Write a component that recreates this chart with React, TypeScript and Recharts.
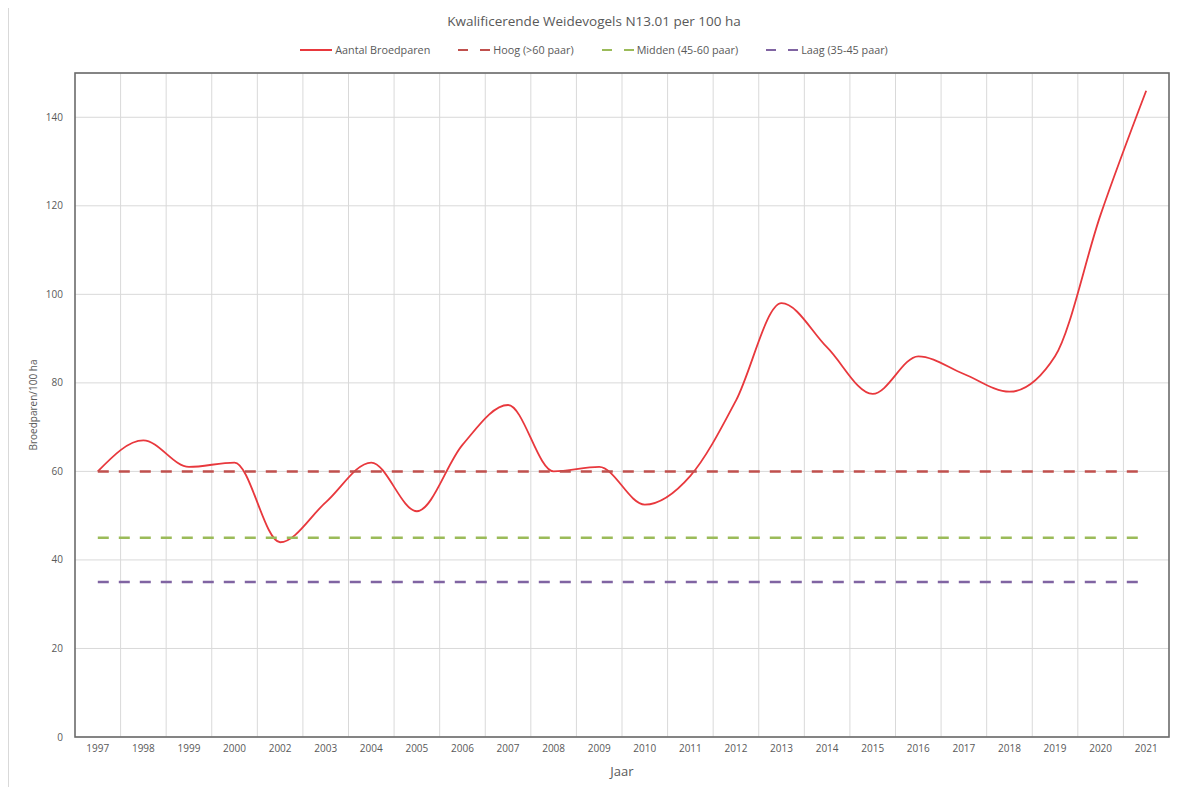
import React from 'react';
import { LineChart, Line, XAxis, YAxis, CartesianGrid, Legend, usePlotArea } from 'recharts';

const years = [
  '1997', '1998', '1999', '2000', '2002', '2003', '2004', '2005', '2006', '2007', '2008', '2009',
  '2010', '2011', '2012', '2013', '2014', '2015', '2016', '2017', '2018', '2019', '2020', '2021',
];
const broedparen = [60, 67, 61, 62, 44, 53, 62, 51, 66, 75, 60, 61, 52.5, 59, 76, 98, 88, 77.5, 86, 82, 78, 86, 118, 146];
const hoog = [60, 60, 60, 60, 60, 60, 60, 60, 60, 60, 60, 60, 60, 60, 60, 60, 60, 60, 60, 60, 60, 60, 60, 60];
const midden = [45, 45, 45, 45, 45, 45, 45, 45, 45, 45, 45, 45, 45, 45, 45, 45, 45, 45, 45, 45, 45, 45, 45, 45];
const laag = [35, 35, 35, 35, 35, 35, 35, 35, 35, 35, 35, 35, 35, 35, 35, 35, 35, 35, 35, 35, 35, 35, 35, 35];
const yTicks = [0, 20, 40, 60, 80, 100, 120, 140];
const seriesNames = ['Aantal Broedparen', 'Hoog (>60 paar)', 'Midden (45-60 paar)', 'Laag (35-45 paar)'];

const data = years.map((jaar, i) => ({
  jaar,
  broedparen: broedparen[i],
  hoog: hoog[i],
  midden: midden[i],
  laag: laag[i],
}));

const FONT = "'Open Sans', 'Noto Sans', sans-serif";
const GREY = '#595959';

const LegendContent = (props: any) => {
  const items = [...(props.payload || [])].sort(
    (a: any, b: any) => seriesNames.indexOf(a.value) - seriesNames.indexOf(b.value)
  );
  return (
    <div style={{ display: 'flex', justifyContent: 'center', gap: 28, fontFamily: FONT, fontSize: 10.8, color: GREY }}>
      {items.map((item: any) => (
        <div key={item.value} style={{ display: 'flex', alignItems: 'center', gap: 3 }}>
          <svg width={32} height={6}>
            <line
              x1={0}
              y1={3}
              x2={32}
              y2={3}
              stroke={item.color}
              strokeWidth={2}
              strokeDasharray={item.value === seriesNames[0] ? undefined : '10 12'}
            />
          </svg>
          <span>{item.value}</span>
        </div>
      ))}
    </div>
  );
};

// dark frame around the plot area
const PlotBorder = () => {
  const area: any = typeof usePlotArea === 'function' ? usePlotArea() : null;
  if (!area) return null;
  return (
    <rect x={area.x} y={area.y} width={area.width} height={area.height} fill="none" stroke="#6b6b6b" strokeWidth={1.6} />
  );
};

export default function App() {
  return (
    <div
      style={{
        position: 'relative',
        width: 1170,
        height: 790,
        marginTop: -2,
        border: '1px solid #d9d9d9',
        background: '#fff',
      }}
    >
      <div
        style={{
          position: 'absolute',
          top: 5,
          left: 0,
          width: 1170,
          textAlign: 'center',
          fontFamily: FONT,
          fontSize: 13.5,
          color: GREY,
        }}
      >
        Kwalificerende Weidevogels N13.01 per 100 ha
      </div>
      <LineChart width={1170} height={779} data={data} margin={{ top: 51, right: 10, bottom: 0, left: 10 }}>
        <CartesianGrid
          stroke="#d9d9d9"
          verticalCoordinatesGenerator={({ offset }: any) => {
            const step = offset.width / years.length;
            return years.slice(1).map((_, i) => offset.left + step * (i + 1));
          }}
        />
        <XAxis
          dataKey="jaar"
          scale="band"
          height={49}
          tickLine={false}
          axisLine={false}
          tick={{ fill: GREY, fontSize: 10, fontFamily: FONT }}
          interval={0}
          label={{ value: 'Jaar', position: 'insideBottom', offset: 10, fill: GREY, fontSize: 13, fontFamily: FONT }}
        />
        <YAxis
          domain={[0, 150]}
          ticks={yTicks}
          width={56}
          tickLine={false}
          tickMargin={6}
          axisLine={false}
          tick={{ fill: GREY, fontSize: 10, fontFamily: FONT }}
          label={{
            value: 'Broedparen/100 ha',
            angle: -90,
            position: 'insideLeft',
            offset: 14,
            fill: GREY,
            fontSize: 10,
            fontFamily: FONT,
            style: { textAnchor: 'middle' },
          }}
        />
        <Legend verticalAlign="top" wrapperStyle={{ top: 35, left: 0, width: 1170 }} content={LegendContent} />
        <Line
          dataKey="broedparen"
          name={seriesNames[0]}
          type="monotone"
          stroke="#e8383d"
          strokeWidth={1.8}
          dot={false}
          isAnimationActive={false}
        />
        <Line
          dataKey="hoog"
          name={seriesNames[1]}
          type="linear"
          stroke="#c0504d"
          strokeWidth={2.5}
          strokeDasharray="11 10"
          dot={false}
          isAnimationActive={false}
        />
        <Line
          dataKey="midden"
          name={seriesNames[2]}
          type="linear"
          stroke="#9bbb59"
          strokeWidth={2.5}
          strokeDasharray="11 10"
          dot={false}
          isAnimationActive={false}
        />
        <Line
          dataKey="laag"
          name={seriesNames[3]}
          type="linear"
          stroke="#8064a2"
          strokeWidth={2.5}
          strokeDasharray="11 10"
          dot={false}
          isAnimationActive={false}
        />
        <PlotBorder />
      </LineChart>
    </div>
  );
}
